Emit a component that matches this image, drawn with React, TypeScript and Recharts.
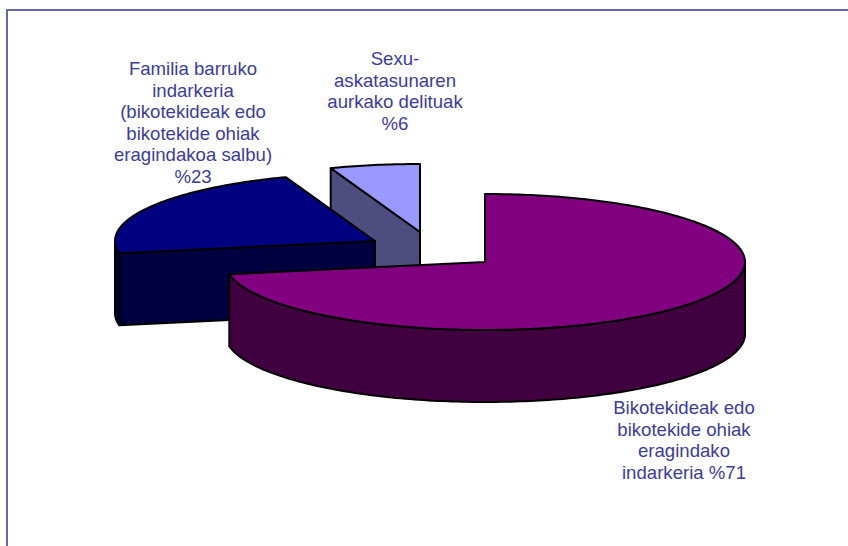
import React from "react";
import { PieChart, Pie } from "recharts";

// Painted back to front, running counter-clockwise from twelve o'clock.
const categories = ["Sexu-askatasunaren aurkako delituak", "Familia barruko indarkeria", "Bikotekideak edo bikotekide ohiak eragindako indarkeria"];
const values = [6, 23, 71];
const labelLines = [
  ["Sexu-", "askatasunaren", "aurkako delituak", "%6"],
  ["Familia barruko", "indarkeria", "(bikotekideak edo", "bikotekide ohiak", "eragindakoa salbu)", "%23"],
  ["Bikotekideak edo", "bikotekide ohiak", "eragindako", "indarkeria %71"],
];
const topColors = ["#9999FF", "#000080", "#800080"];
const wallColors = ["#4D4D80", "#000040", "#400040"];

// Presentation constants of the exploded 3D pie
const explode = [[-65, -30], [-110, -21], [0, 0]];
const labelAnchors = [[395, 65], [193, 75], [684, 414]];
const LINE_HEIGHT = 21.6;
const SQUASH = 68 / 260;
const DEPTH = 72;
const WARP = 4.1;

const rows = categories.map((name, i) => ({ name, value: values[i], idx: i }));
const RAD = Math.PI / 180;

function pt(cx: number, cy: number, r: number, a: number): [number, number] {
  // a: recharts angle (degrees, ccw from 3 o'clock). Slight perspective warp as in the 3D view.
  const th = 90 - a;
  const phi = (th - WARP * Math.sin(th * RAD)) * RAD;
  return [cx + r * Math.sin(phi), cy - r * SQUASH * Math.cos(phi)];
}
const poly = (p: [number, number][]) => "M" + p.map((q) => q[0].toFixed(2) + "," + q[1].toFixed(2)).join("L") + "Z";

function Slice3D(props: any) {
  const { cx, cy, outerRadius: r, startAngle: a0, endAngle: a1 } = props;
  const i = props.idx ?? props.payload?.idx ?? 0;
  const x = cx + explode[i][0];
  const y = cy + explode[i][1];
  const arc: [number, number, number][] = [];
  const n = Math.max(2, Math.ceil(Math.abs(a1 - a0)));
  for (let k = 0; k <= n; k++) {
    const a = a0 + ((a1 - a0) * k) / n;
    const p = pt(x, y, r, a);
    arc.push([p[0], p[1], a]);
  }
  const points = arc.map((q) => [q[0], q[1]] as [number, number]);
  const down = (p: [number, number]): [number, number] => [p[0], p[1] + DEPTH];
  const tip: [number, number] = [x, y];
  const walls: React.ReactNode[] = [];
  const edgeWall = (e: [number, number], key: string) => (
    <path key={key} d={poly([tip, e, down(e), down(tip)])} fill={wallColors[i]} stroke="#000" strokeWidth={2} strokeLinejoin="round" />
  );
  if (Math.cos(a1 * RAD) < -1e-6) walls.push(edgeWall(points[points.length - 1], "e1"));
  if (Math.cos(a0 * RAD) > 1e-6) walls.push(edgeWall(points[0], "e0"));
  const front = points.filter((_, k) => Math.sin(arc[k][2] * RAD) < 0.02 && arc[k][1] >= y - 1);
  if (front.length > 1) {
    walls.push(
      <path key="outer" d={poly([...front, ...front.slice().reverse().map(down)])} fill={wallColors[i]} stroke="#000" strokeWidth={2} strokeLinejoin="round" />
    );
  }
  return (
    <g>
      {walls}
      <path d={poly([tip, ...points])} fill={topColors[i]} stroke="#000" strokeWidth={2} strokeLinejoin="round" />
    </g>
  );
}

function SliceLabel(props: any) {
  const i = props.index ?? 0;
  const [lx, ly] = labelAnchors[i];
  return (
    <text x={lx} y={ly} textAnchor="middle" fontFamily="'Liberation Sans', Arial, sans-serif" fontSize={18.6} fill="#3C3CA0">
      {labelLines[i].map((line, k) => (
        <tspan key={k} x={lx} y={ly + k * LINE_HEIGHT}>{line}</tspan>
      ))}
    </text>
  );
}

export default function App() {
  return (
    <div style={{ position: "absolute", left: 0, top: 0, width: 848, height: 546, overflow: "hidden", background: "#fff" }}>
      <div style={{ position: "absolute", left: 6, top: 9, width: 842, height: 537, boxSizing: "border-box", borderLeft: "2px solid #6666B3", borderTop: "2px solid #6666B3" }} />
      <div style={{ position: "absolute", left: 0, top: 0 }}>
        <PieChart width={848} height={546} margin={{ top: 0, right: 0, bottom: 0, left: 0 }}>
          <Pie
            data={rows}
            dataKey="value"
            nameKey="name"
            cx={485}
            cy={262}
            innerRadius={0}
            outerRadius={260}
            startAngle={90}
            endAngle={450}
            paddingAngle={0}
            isAnimationActive={false}
            shape={Slice3D}
            activeShape={Slice3D}
            inactiveShape={Slice3D}
            label={SliceLabel}
            labelLine={false}
            stroke="none"
          />
        </PieChart>
      </div>
    </div>
  );
}
